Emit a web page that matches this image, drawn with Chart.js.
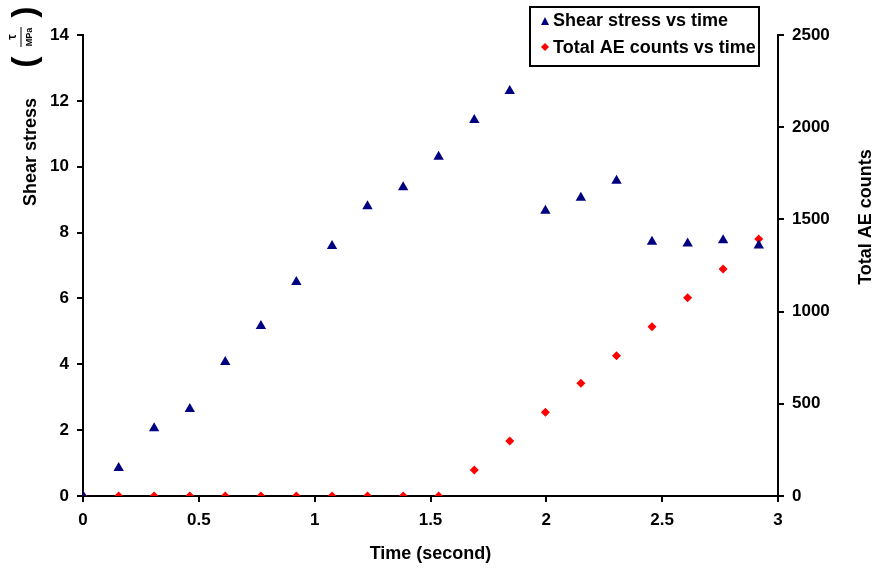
<!DOCTYPE html>
<html>
<head>
<meta charset="utf-8">
<script src="https://cdn.jsdelivr.net/npm/chart.js@4"></script>
<style>
  body { margin: 0; background: #fff; }
  #wrap { width: 877px; height: 569px; position: relative; }
</style>
</head>
<body>
<div id="wrap"><canvas id="stressChart"></canvas></div>
<script>
// time (second)
const timeValues = [0, 0.154, 0.307, 0.461, 0.614, 0.768, 0.921, 1.075, 1.228, 1.382,
                    1.535, 1.689, 1.842, 1.996, 2.149, 2.303, 2.456, 2.61, 2.763, 2.917];
// shear stress (MPa)
const shearStress = [0, 0.85, 2.06, 2.64, 4.07, 5.16, 6.5, 7.59, 8.8, 9.38,
                     10.3, 11.42, 12.3, 8.66, 9.06, 9.57, 7.72, 7.67, 7.77, 7.61];
// total AE counts
const aeCounts = [0, 0, 0, 0, 0, 0, 0, 0, 0, 0,
                  0, 141, 298, 454, 611, 761, 918, 1075, 1231, 1394];
const xTicks = [0, 0.5, 1, 1.5, 2, 2.5, 3];
const leftTicks = [0, 2, 4, 6, 8, 10, 12, 14];
const rightTicks = [0, 500, 1000, 1500, 2000, 2500];
const legendLabels = ['Shear stress vs time', 'Total AE counts vs time'];

const FONT = 'Liberation Sans, Arial, sans-serif';
const tickFont = { family: FONT, size: 17, weight: 'bold' };
const plain = v => String(v);

function toPoints(xs, ys) {
  return xs.map((x, i) => ({ x: x, y: ys[i] }));
}

// titles and legend box drawn by hand
const decorations = {
  id: 'decorations',
  afterDraw(chart) {
    const ctx = chart.ctx;
    ctx.save();
    ctx.fillStyle = '#000';
    ctx.textAlign = 'center';
    ctx.textBaseline = 'middle';

    // left title
    ctx.save();
    ctx.translate(31, 152);
    ctx.rotate(-Math.PI / 2);
    ctx.font = 'bold 18px ' + FONT;
    ctx.fillText('Shear stress', 0, 0);
    ctx.restore();

    // (τ / MPa)
    ctx.save();
    ctx.translate(26, 37);
    ctx.rotate(-Math.PI / 2);
    ctx.font = 'bold 34px ' + FONT;
    ctx.fillText('(', -25, 0);
    ctx.fillText(')', 25, 0);
    ctx.font = 'bold 12px ' + FONT;
    ctx.fillText('τ', 0, -13);
    ctx.font = 'bold 9px ' + FONT;
    ctx.fillText('MPa', 0, 4);
    ctx.lineWidth = 1;
    ctx.beginPath();
    ctx.moveTo(-10, -5);
    ctx.lineTo(10, -5);
    ctx.stroke();
    ctx.restore();

    // right title
    ctx.save();
    ctx.translate(866, 217);
    ctx.rotate(-Math.PI / 2);
    ctx.font = 'bold 18px ' + FONT;
    ctx.fillText('Total AE counts', 0, 0);
    ctx.restore();

    // legend
    ctx.fillStyle = '#fff';
    ctx.fillRect(530, 7, 229, 59);
    ctx.strokeStyle = '#000';
    ctx.lineWidth = 2;
    ctx.strokeRect(530, 7, 229, 59);
    ctx.fillStyle = '#000080';
    ctx.beginPath();
    ctx.moveTo(541, 25); ctx.lineTo(549, 25); ctx.lineTo(545, 17);
    ctx.closePath(); ctx.fill();
    ctx.fillStyle = '#ff0000';
    ctx.beginPath();
    ctx.moveTo(545, 43); ctx.lineTo(549, 47); ctx.lineTo(545, 51); ctx.lineTo(541, 47);
    ctx.closePath(); ctx.fill();
    ctx.fillStyle = '#000';
    ctx.textAlign = 'left';
    ctx.font = 'bold 18px ' + FONT;
    ctx.fillText(legendLabels[0], 553, 21);
    ctx.fillText(legendLabels[1], 553, 48);
    ctx.restore();
  }
};

new Chart(document.getElementById('stressChart'), {
  type: 'scatter',
  data: {
    datasets: [
      {
        label: legendLabels[0],
        data: toPoints(timeValues, shearStress),
        yAxisID: 'y',
        pointStyle: 'triangle',
        pointRadius: 6,
        backgroundColor: '#000080',
        borderColor: '#000080',
        borderWidth: 0
      },
      {
        label: legendLabels[1],
        data: toPoints(timeValues, aeCounts),
        yAxisID: 'y2',
        pointStyle: 'rectRot',
        pointRadius: 4.5,
        backgroundColor: '#ff0000',
        borderColor: '#ff0000',
        borderWidth: 0
      }
    ]
  },
  options: {
    responsive: true,
    maintainAspectRatio: false,
    animation: false,
    layout: { padding: { top: 35, left: 0, right: 0, bottom: 0 } },
    plugins: {
      legend: { display: false },
      tooltip: { enabled: false }
    },
    scales: {
      x: {
        type: 'linear',
        min: 0,
        max: 3,
        afterBuildTicks: s => { s.ticks = xTicks.map(v => ({ value: v })); },
        afterFit: s => { s.height = 73; },
        border: { color: '#000', width: 2 },
        grid: { drawOnChartArea: false, color: '#000', lineWidth: 2, tickLength: 6 },
        ticks: { color: '#000', font: tickFont, padding: 8, maxRotation: 0, callback: plain },
        title: { display: true, text: 'Time (second)', color: '#000',
                 font: { family: FONT, size: 18, weight: 'bold' }, padding: { top: 0 } }
      },
      y: {
        position: 'left',
        min: 0,
        max: 14,
        afterBuildTicks: s => { s.ticks = leftTicks.map(v => ({ value: v })); },
        afterFit: s => { s.width = 83; },
        border: { color: '#000', width: 2 },
        grid: { drawOnChartArea: false, color: '#000', lineWidth: 2, tickLength: 6 },
        ticks: { color: '#000', font: tickFont, padding: 8, callback: plain }
      },
      y2: {
        position: 'right',
        min: 0,
        max: 2500,
        afterBuildTicks: s => { s.ticks = rightTicks.map(v => ({ value: v })); },
        afterFit: s => { s.width = 99; },
        border: { color: '#000', width: 2 },
        grid: { drawOnChartArea: false, color: '#000', lineWidth: 2, tickLength: 6 },
        ticks: { color: '#000', font: tickFont, padding: 8, callback: plain }
      }
    }
  },
  plugins: [decorations]
});
</script>
</body>
</html>
